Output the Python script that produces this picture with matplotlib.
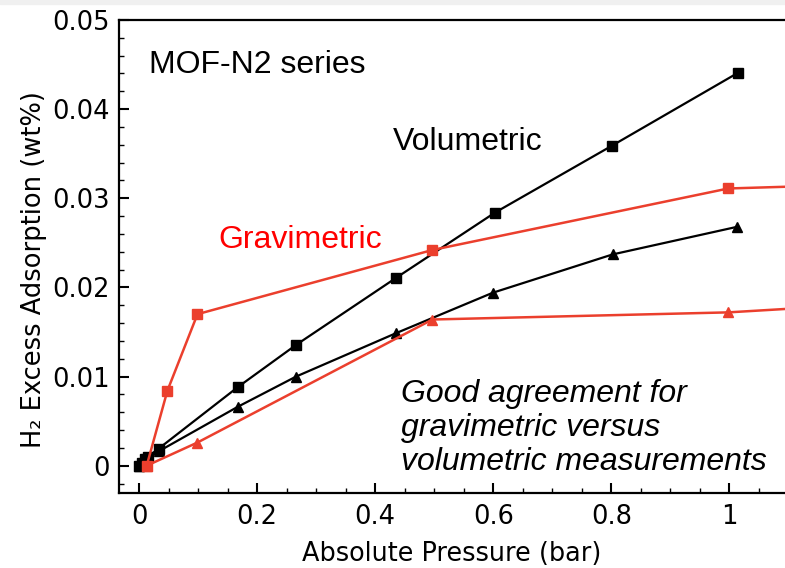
import matplotlib
matplotlib.use("Agg")
import matplotlib.pyplot as plt
from matplotlib.ticker import FixedLocator, FixedFormatter, MultipleLocator
from matplotlib.patches import Rectangle

# ---- data ----
vol_sq_x = [0.0, 0.005, 0.010, 0.015, 0.033, 0.167, 0.266, 0.436, 0.603, 0.801, 1.015]
vol_sq_y = [0.0, 0.0003, 0.0007, 0.0010, 0.0019, 0.0088, 0.01355, 0.0211, 0.0284, 0.0359, 0.0441]
vol_tri_x = [0.0, 0.005, 0.010, 0.033, 0.167, 0.266, 0.435, 0.599, 0.802, 1.013]
vol_tri_y = [0.0, 0.0003, 0.0006, 0.0016, 0.0066, 0.0100, 0.01486, 0.0194, 0.0237, 0.0268]
grav_sq_x = [0.013, 0.048, 0.099, 0.497, 0.998, 1.2]
grav_sq_y = [0.0, 0.0084, 0.0170, 0.0242, 0.0311, 0.0315]
grav_tri_x = [0.013, 0.099, 0.497, 0.998, 1.2]
grav_tri_y = [0.0, 0.0026, 0.0164, 0.0172, 0.0180]

x_ticks = [0, 0.2, 0.4, 0.6, 0.8, 1.0]
x_tick_labels = ["0", "0.2", "0.4", "0.6", "0.8", "1"]
y_ticks = [0, 0.01, 0.02, 0.03, 0.04, 0.05]
y_tick_labels = ["0", "0.01", "0.02", "0.03", "0.04", "0.05"]

RED = "#eb3f2d"

fig = plt.figure(figsize=(7.85, 5.68), dpi=100)
fig.patches.append(Rectangle((0, 564 / 568), 1, 4 / 568, transform=fig.transFigure,
                             color="#f0f0f0", zorder=0))
ax = fig.add_axes([119 / 785, 75.3 / 568, 666 / 785, 472.7 / 568])

ax.plot(vol_sq_x, vol_sq_y, color="black", lw=1.6, marker="s", ms=6.5, zorder=3)
ax.plot(vol_tri_x, vol_tri_y, color="black", lw=1.6, marker="^", ms=7, zorder=3)
ax.plot(grav_sq_x, grav_sq_y, color=RED, lw=1.8, marker="s", ms=6.5, zorder=4)
ax.plot(grav_tri_x, grav_tri_y, color=RED, lw=1.8, marker="^", ms=7, zorder=4)

ax.set_xlim(-0.0339, 1.094)
ax.set_ylim(-0.00303, 0.05)

ax.xaxis.set_major_locator(FixedLocator(x_ticks))
ax.xaxis.set_major_formatter(FixedFormatter(x_tick_labels))
ax.yaxis.set_major_locator(FixedLocator(y_ticks))
ax.yaxis.set_major_formatter(FixedFormatter(y_tick_labels))
ax.xaxis.set_minor_locator(MultipleLocator(0.05))
ax.yaxis.set_minor_locator(MultipleLocator(0.002))

ax.tick_params(which="both", direction="in", top=False, right=False)
ax.tick_params(which="major", length=7, width=1.5, labelsize=18.5)
ax.tick_params(which="minor", length=3.8, width=1.0)
ax.tick_params(axis="x", which="major", pad=8)
ax.tick_params(axis="y", which="major", pad=6.5)

for s in ["left", "bottom", "top"]:
    ax.spines[s].set_linewidth(1.6)
ax.spines["right"].set_visible(False)

for lab in ax.get_xticklabels() + ax.get_yticklabels():
    lab.set_family("DejaVu Sans")

ax.set_xlabel("Absolute Pressure (bar)", fontsize=18.4, family="DejaVu Sans")
ax.set_ylabel("H₂ Excess Adsorption (wt%)", fontsize=18.5, family="DejaVu Sans")
ax.xaxis.set_label_coords(0.5, -0.1015)
ax.yaxis.set_label_coords(-0.108, 0.473)

tf = "Liberation Sans"
fs = 23
ax.text(0.0169, 0.04405, "MOF-N2 series", fontsize=fs, family=tf, va="baseline", ha="left")
ax.text(0.430, 0.03543, "Volumetric", fontsize=fs, family=tf, va="baseline", ha="left")
ax.text(0.1338, 0.02443, "Gravimetric", fontsize=fs, family=tf, color="#ff0000",
        va="baseline", ha="left")
ax.text(0.443, 0.00715, "Good agreement for", fontsize=fs, family=tf, style="italic",
        va="baseline", ha="left")
ax.text(0.443, 0.00333, "gravimetric versus", fontsize=fs, family=tf, style="italic",
        va="baseline", ha="left")
ax.text(0.443, -0.00048, "volumetric measurements", fontsize=fs, family=tf, style="italic",
        va="baseline", ha="left")

fig.savefig("out.png", dpi=100)
